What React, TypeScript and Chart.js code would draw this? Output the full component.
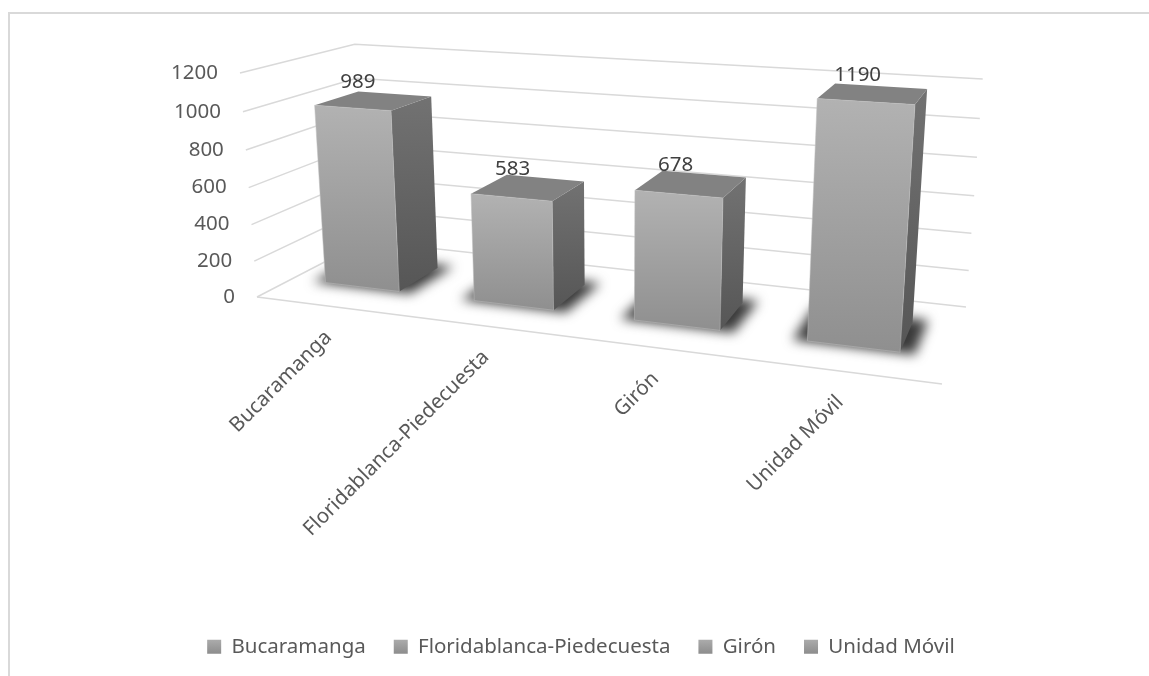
import React, { useEffect, useRef } from "react";
import { Chart, registerables } from "chart.js";

Chart.register(...registerables);

const categories = ["Bucaramanga", "Floridablanca-Piedecuesta", "Girón", "Unidad Móvil"];
const values = [989, 583, 678, 1190];
const yMax = 1200;
const yStep = 200;

const FONT = '"Noto Sans", sans-serif';
const FONT_SIZE = 20.5;
const TEXT = "#595959";
const GRID = "#d9d9d9";

type P = [number, number];

// Perspective view of the box: floor corners, and a vanishing point for the verticals
const FLOOR_FL: P = [257, 297];
const FLOOR_FR: P = [942, 384];
const FLOOR_BR: P = [966, 307];
const FLOOR_BL: P = [365, 241];
const TOP_FL: P = [240, 73];
const VANISH: P = [615, 5012];
const TOP_SKEW = -3.8;

function makeView() {
  const [p00, p10, p11, p01] = [FLOOR_FL, FLOOR_FR, FLOOR_BR, FLOOR_BL];
  const dx1 = p10[0] - p11[0], dx2 = p01[0] - p11[0], sx = p00[0] - p10[0] + p11[0] - p01[0];
  const dy1 = p10[1] - p11[1], dy2 = p01[1] - p11[1], sy = p00[1] - p10[1] + p11[1] - p01[1];
  const det = dx1 * dy2 - dx2 * dy1;
  const g = (sx * dy2 - dx2 * sy) / det;
  const h = (dx1 * sy - sx * dy1) / det;
  const a = p10[0] - p00[0] + g * p10[0], b = p01[0] - p00[0] + h * p01[0], c = p00[0];
  const d = p10[1] - p00[1] + g * p10[1], e = p01[1] - p00[1] + h * p01[1], f = p00[1];
  // homogeneous height vector through the vanishing point
  const r = (TOP_FL[1] - p00[1]) / (VANISH[1] - TOP_FL[1]);
  const px = VANISH[0] * r, qy = VANISH[1] * r;
  return (u: number, v: number, t: number): P => {
    const w = g * u + h * v + 1 + r * t;
    return [(a * u + b * v + c + px * t) / w, (d * u + e * v + f + qy * t + TOP_SKEW * u * t) / w];
  };
}

const project = makeView();

const V_FRONT = 0.3;
const V_BACK = 0.7;
const U_SHIFT = -0.004;

function poly(ctx: CanvasRenderingContext2D, pts: P[]) {
  ctx.beginPath();
  pts.forEach((p, i) => (i ? ctx.lineTo(p[0], p[1]) : ctx.moveTo(p[0], p[1])));
  ctx.closePath();
}

function vGrad(ctx: CanvasRenderingContext2D, y0: number, y1: number, c0: string, c1: string) {
  const g = ctx.createLinearGradient(0, y0, 0, y1);
  g.addColorStop(0, c0);
  g.addColorStop(1, c1);
  return g;
}

const scene3d = {
  id: "scene3d",
  beforeDatasetsDraw(chart: any) {
    const { ctx, chartArea: area, scales } = chart;
    const yS = scales.y;
    const xS = scales.x;
    const toT = (val: number) => (yS.bottom - yS.getPixelForValue(val)) / (yS.bottom - yS.top);
    const toU = (px: number) => (px - area.left) / (area.right - area.left);

    ctx.save();
    // chart frame
    ctx.strokeStyle = GRID;
    ctx.lineWidth = 2;
    ctx.beginPath();
    ctx.moveTo(9, 676);
    ctx.lineTo(9, 13);
    ctx.lineTo(1149, 13);
    ctx.stroke();

    // walls and floor grid
    ctx.strokeStyle = GRID;
    ctx.lineWidth = 1.5;
    for (const tick of yS.ticks) {
      const t = toT(tick.value);
      const a = project(0, 0, t), b = project(0, 1, t), c = project(1, 1, t);
      ctx.beginPath();
      ctx.moveTo(a[0], a[1]);
      ctx.lineTo(b[0], b[1]);
      ctx.lineTo(c[0], c[1]);
      ctx.stroke();
      ctx.fillStyle = TEXT;
      ctx.font = `${FONT_SIZE}px ${FONT}`;
      ctx.textAlign = "right";
      ctx.textBaseline = "middle";
      ctx.fillText(tick.label, a[0] - 22, a[1]);
    }
    const f0 = project(0, 0, 0), f1 = project(1, 0, 0);
    ctx.beginPath();
    ctx.moveTo(f0[0], f0[1]);
    ctx.lineTo(f1[0], f1[1]);
    ctx.stroke();

    // category labels
    categories.forEach((label, i) => {
      const u = toU(xS.getPixelForTick(i)) + U_SHIFT;
      const p = project(u, 0, 0);
      ctx.save();
      ctx.translate(p[0] - 0.5, p[1] + 28);
      ctx.rotate(-Math.PI / 4);
      ctx.fillStyle = TEXT;
      ctx.font = `${FONT_SIZE}px ${FONT}`;
      ctx.textAlign = "right";
      ctx.textBaseline = "middle";
      ctx.fillText(label, 0, 0);
      ctx.restore();
    });

    // bars
    const meta = chart.getDatasetMeta(0);
    meta.data.forEach((el: any, i: number) => {
      const half = el.width / 2 / (area.right - area.left);
      const uc = toU(el.x) + U_SHIFT;
      const u0 = uc - half, u1 = uc + half;
      const t = (yS.bottom - el.y) / (yS.bottom - yS.top);

      // shadow on the floor
      ctx.save();
      ctx.filter = "blur(6px)";
      ctx.fillStyle = "#3a3a3a";
      poly(ctx, [
        project(u0 - 0.02, V_FRONT - 0.01, 0),
        project(u1 + 0.02, V_FRONT - 0.01, 0),
        project(u1 + 0.02, V_BACK + 0.05, 0),
        project(u0 - 0.02, V_BACK + 0.05, 0),
      ]);
      ctx.fill();
      ctx.restore();

      const fbl = project(u0, V_FRONT, 0), fbr = project(u1, V_FRONT, 0);
      const bbr = project(u1, V_BACK, 0);
      const ftl = project(u0, V_FRONT, t), ftr = project(u1, V_FRONT, t);
      const btr = project(u1, V_BACK, t), btl = project(u0, V_BACK, t);

      // right side
      ctx.fillStyle = vGrad(ctx, btr[1], fbr[1], "#727272", "#565656");
      poly(ctx, [ftr, btr, bbr, fbr]);
      ctx.fill();
      // top
      ctx.fillStyle = "#828282";
      poly(ctx, [ftl, ftr, btr, btl]);
      ctx.fill();
      // front
      ctx.fillStyle = vGrad(ctx, ftl[1], fbr[1], "#b2b2b2", "#8f8f8f");
      poly(ctx, [ftl, ftr, fbr, fbl]);
      ctx.fill();
      ctx.strokeStyle = "rgba(190,190,190,0.5)";
      ctx.lineWidth = 1;
      ctx.stroke();

      // value label
      const cx = (ftl[0] + ftr[0] + btr[0] + btl[0]) / 4;
      const cy = (ftl[1] + ftr[1] + btr[1] + btl[1]) / 4;
      ctx.fillStyle = "#404040";
      ctx.font = `${FONT_SIZE}px ${FONT}`;
      ctx.textAlign = "center";
      ctx.textBaseline = "middle";
      ctx.fillText(String(values[i]), cx - 16, cy - 19);
    });
    ctx.restore();
  },
};

export default function App() {
  const ref = useRef<HTMLCanvasElement | null>(null);
  useEffect(() => {
    const canvas = ref.current!;
    const chart = new Chart(canvas, {
      type: "bar",
      data: {
        labels: categories,
        datasets: [
          {
            data: values,
            backgroundColor: "rgba(0,0,0,0)",
            borderWidth: 0,
            barPercentage: 0.505,
            categoryPercentage: 1,
          },
        ],
      },
      options: {
        responsive: false,
        animation: false,
        layout: { padding: { top: 20, left: 33, right: 20, bottom: 9 } },
        scales: {
          x: { display: true, grid: { display: false }, border: { display: false }, ticks: { display: false } },
          y: {
            min: 0,
            max: yMax,
            grid: { display: false },
            border: { display: false },
            ticks: { display: false, stepSize: yStep, callback: (v: any) => String(v) },
          },
        },
        plugins: {
          title: { display: false },
          tooltip: { enabled: false },
          legend: {
            display: true,
            position: "bottom",
            labels: {
              boxWidth: 14,
              boxHeight: 14,
              padding: 28,
              color: TEXT,
              font: { family: FONT, size: FONT_SIZE },
              generateLabels: (c: any) => {
                const g = c.ctx.createLinearGradient(0, 639, 0, 654);
                g.addColorStop(0, "#adadad");
                g.addColorStop(1, "#8c8c8c");
                return categories.map((text, i) => ({
                  text,
                  fillStyle: g,
                  strokeStyle: "rgba(0,0,0,0)",
                  lineWidth: 0,
                  fontColor: TEXT,
                  index: i,
                  hidden: false,
                }));
              },
            },
          },
        },
      },
      plugins: [scene3d],
    } as any);
    return () => chart.destroy();
  }, []);
  return (
    <canvas
      ref={ref}
      width={1149}
      height={676}
      style={{ position: "absolute", left: 0, top: 0, width: 1149, height: 676, display: "block", background: "#fff" }}
    />
  );
}
